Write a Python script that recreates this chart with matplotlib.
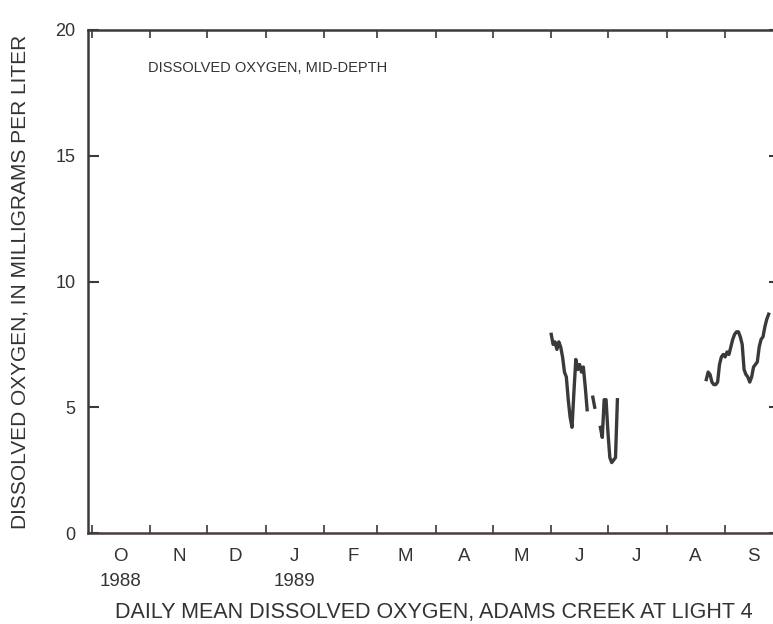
import numpy as np
import matplotlib
matplotlib.use("Agg")
import matplotlib.pyplot as plt
import matplotlib.dates as mdates

plt.rcParams['font.family'] = ['Liberation Sans', 'DejaVu Sans']

#Datos: oxigeno disuelto medio diario (mg/L)
inicio_1 = np.datetime64('1989-06-01')
do_jun_jul = [7.9, 7.5, 7.6, 7.3, 7.6, 7.4, 7.0, 6.4, 6.2, 5.3,
              4.6, 4.2, 5.6, 6.9, 6.5, 6.7, 6.4, 6.6, 5.8, 4.9,
              np.nan, np.nan, 5.4, 5.0, np.nan, np.nan, 4.2, 3.8, 5.3, 5.3,
              4.0, 3.0, 2.8, 2.9, 3.0, 5.3]
inicio_2 = np.datetime64('1989-08-22')
do_ago_sep = [6.1, 6.4, 6.3, 6.0, 5.9, 5.9, 6.0, 6.7, 7.0, 7.1,
              7.0, 7.2, 7.1, 7.4, 7.7, 7.9, 8.0, 8.0, 7.8, 7.5,
              6.5, 6.3, 6.2, 6.0, 6.2, 6.6, 6.7, 6.8, 7.4, 7.7,
              7.8, 8.2, 8.5, 8.7]

meses = ['O\n1988', 'N', 'D', 'J\n1989', 'F', 'M', 'A', 'M', 'J', 'J', 'A', 'S']
y_ticks = [0, 5, 10, 15, 20]

color_linea = '#3a3a3a'
color_texto = '#333333'

fechas_1 = (inicio_1 + np.arange(len(do_jun_jul))).astype(object)
fechas_2 = (inicio_2 + np.arange(len(do_ago_sep))).astype(object)

fig = plt.figure(figsize=(7.73, 6.24), dpi=100)
#El eje derecho queda fuera de la imagen, como en el original escaneado
ax = fig.add_axes([88/773, 91/624, 692/773, 503/624])

ax.plot(fechas_1, do_jun_jul, color=color_linea, lw=2.4)
ax.plot(fechas_2, do_ago_sep, color=color_linea, lw=2.4)

ax.set_xlim(np.datetime64('1988-09-29').astype(object), np.datetime64('1989-09-30').astype(object))
ax.set_ylim(0, 20)

#Marcas mayores en el inicio de cada mes, etiquetas a mitad de mes
ax.xaxis.set_major_locator(mdates.MonthLocator())
ax.xaxis.set_major_formatter(plt.NullFormatter())
ax.xaxis.set_minor_locator(mdates.MonthLocator(bymonthday=16))
ax.xaxis.set_minor_formatter(plt.FixedFormatter(meses))
ax.tick_params(axis='x', which='major', direction='in', length=6, width=1.2,
               top=True, color=color_linea)
ax.tick_params(axis='x', which='minor', length=0, pad=11, labelsize=13.5,
               labelcolor=color_texto)
ax.set_yticks(y_ticks)
ax.tick_params(axis='y', direction='in', length=8, width=1.5, right=True,
               pad=9, labelsize=13, labelcolor=color_texto, color=color_linea)

for s in ax.spines.values():
    s.set_color(color_linea)
    s.set_linewidth(1.8)
ax.spines['bottom'].set_color('#4a3a3a')

fig.canvas.draw()
for t in ax.get_xminorticklabels():
    t.set_linespacing(1.6)

ax.text(0.087, 0.925, 'DISSOLVED OXYGEN, MID-DEPTH', transform=ax.transAxes,
        fontsize=10.5, color=color_texto, va='center')

ax.set_ylabel('DISSOLVED OXYGEN, IN MILLIGRAMS PER LITER', fontsize=15,
              color=color_texto)
ax.yaxis.set_label_coords(-0.085, 0.5)
ax.set_xlabel('DAILY MEAN DISSOLVED OXYGEN, ADAMS CREEK AT LIGHT 4', fontsize=15.5,
              color=color_texto)
ax.xaxis.set_label_coords(0.5, -0.138)

fig.savefig('out.png', dpi=100)
